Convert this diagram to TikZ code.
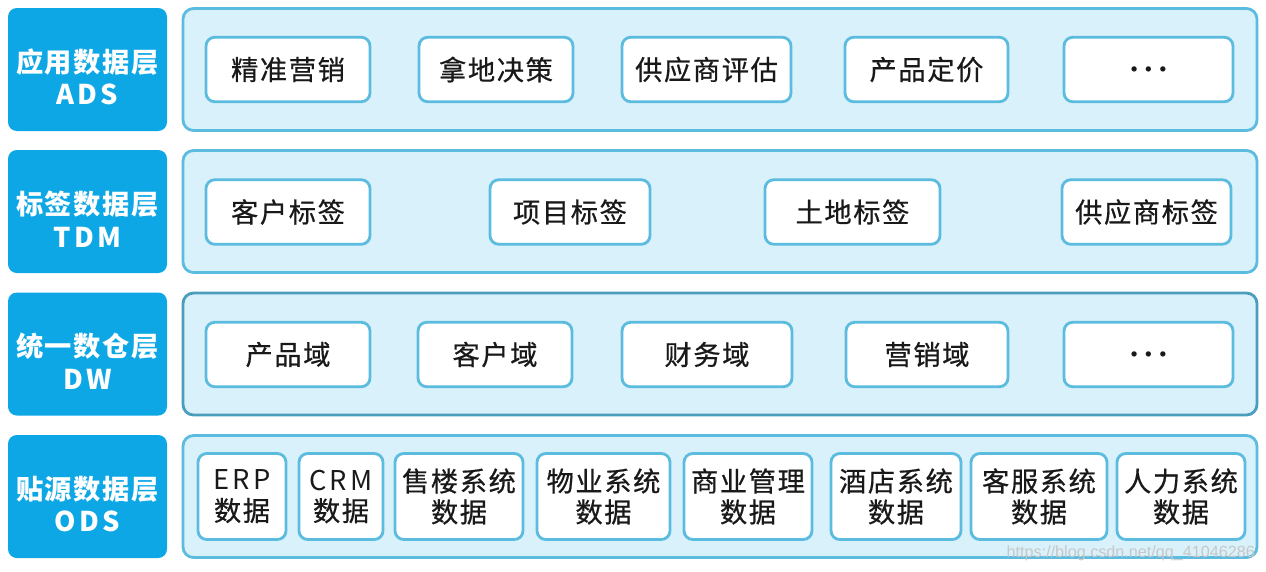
\documentclass[tikz,border=0pt]{standalone}
\usepackage{fontspec}
\setmainfont[LetterSpace=6]{Noto Sans CJK SC}
\newfontfamily\itemfont[LetterSpace=6, FakeBold=0.6]{Noto Sans CJK SC}
\newfontfamily\widelatin[LetterSpace=12]{Noto Sans CJK SC}
\newfontfamily\markfont{Liberation Sans}
\usepackage{xcolor}
\usepackage{tikz}
\usetikzlibrary{positioning}

\definecolor{layerblue}{HTML}{0DA7E5}
\definecolor{panelfill}{HTML}{D8F1FA}
\definecolor{panelline}{HTML}{5BBCDF}
\definecolor{dwline}{HTML}{4A9DBD}

\newcommand{\moredots}{{\fontsize{7}{8}\selectfont$\bullet\;\bullet\;\bullet$}}
\newcommand{\layername}[2]{\rule{0pt}{22pt}#1\\{\widelatin #2}}

\begin{document}
\begin{tikzpicture}[
    layer/.style={rectangle, rounded corners=5pt, fill=layerblue, text=white, minimum width=3.18cm, minimum height=2.46cm, align=center, font=\fontsize{15.5}{18.6}\selectfont\bfseries},
    panel/.style={rectangle, rounded corners=6pt, draw=panelline, line width=1.6pt, fill=panelfill, minimum width=21.48cm, minimum height=2.44cm},
    item/.style={rectangle, rounded corners=5pt, draw=panelline, line width=1.6pt, fill=white, minimum height=1.29cm, align=center, text=black!90, font=\itemfont\fontsize{15.5}{17.6}\selectfont},
    srcitem/.style={item, minimum height=1.72cm}
]
\useasboundingbox (0,0) rectangle (25.32,-11.42);

% layer labels
\node[layer] (ads) at (1.75,-1.39) {\layername{应用数据层}{ADS}};
\node[layer] (tdm) at (1.75,-4.23) {\layername{标签数据层}{TDM}};
\node[layer] (dw) at (1.75,-7.08) {\layername{统一数仓层}{DW}};
\node[layer] (ods) at (1.75,-9.93) {\layername{贴源数据层}{ODS}};

% panels
\node[panel] (adspanel) at (14.4,-1.39) {};
\node[panel] (tdmpanel) at (14.4,-4.23) {};
\node[panel, draw=dwline] (dwpanel) at (14.4,-7.08) {};
\node[panel] (odspanel) at (14.4,-9.93) {};

% ADS
\node[item, minimum width=3.28cm] (marketing) at (5.76,-1.39) {精准营销};
\node[item, minimum width=3.08cm] (landdecision) at (9.92,-1.39) {拿地决策};
\node[item, minimum width=3.38cm] (supplierrating) at (14.13,-1.39) {供应商评估};
\node[item, minimum width=3.26cm] (pricing) at (18.53,-1.39) {产品定价};
\node[item, minimum width=3.38cm] (adsmore) at (22.97,-1.39) {\moredots};

% TDM
\node[item, minimum width=3.28cm] (customertag) at (5.76,-4.24) {客户标签};
\node[item, minimum width=3.2cm] (projecttag) at (11.4,-4.24) {项目标签};
\node[item, minimum width=3.5cm] (landtag) at (17.05,-4.24) {土地标签};
\node[item, minimum width=3.38cm] (suppliertag) at (22.93,-4.24) {供应商标签};

% DW
\node[item, minimum width=3.28cm] (productdomain) at (5.76,-7.09) {产品域};
\node[item, minimum width=3.08cm] (customerdomain) at (9.9,-7.09) {客户域};
\node[item, minimum width=3.4cm] (financedomain) at (14.14,-7.09) {财务域};
\node[item, minimum width=3.24cm] (marketingdomain) at (18.54,-7.09) {营销域};
\node[item, minimum width=3.38cm] (dwmore) at (22.97,-7.09) {\moredots};

% ODS
\node[srcitem, minimum width=1.76cm] (erp) at (4.84,-9.93) {{\widelatin ERP}\\数据};
\node[srcitem, minimum width=1.68cm] (crm) at (6.82,-9.93) {{\widelatin CRM}\\数据};
\node[srcitem, minimum width=2.56cm] (sales) at (9.18,-9.93) {售楼系统\\数据};
\node[srcitem, minimum width=2.66cm] (property) at (12.07,-9.93) {物业系统\\数据};
\node[srcitem, minimum width=2.56cm] (commerce) at (14.96,-9.93) {商业管理\\数据};
\node[srcitem, minimum width=2.6cm] (hotel) at (17.92,-9.93) {酒店系统\\数据};
\node[srcitem, minimum width=2.72cm] (service) at (20.78,-9.93) {客服系统\\数据};
\node[srcitem, minimum width=2.56cm] (hr) at (23.62,-9.93) {人力系统\\数据};

\node[text=black!22, font=\markfont\fontsize{9.2}{11}\selectfont, anchor=east] (watermark) at (25.22,-11.07) {https://blog.csdn.net/qq\_41046286};

\end{tikzpicture}
\end{document}
